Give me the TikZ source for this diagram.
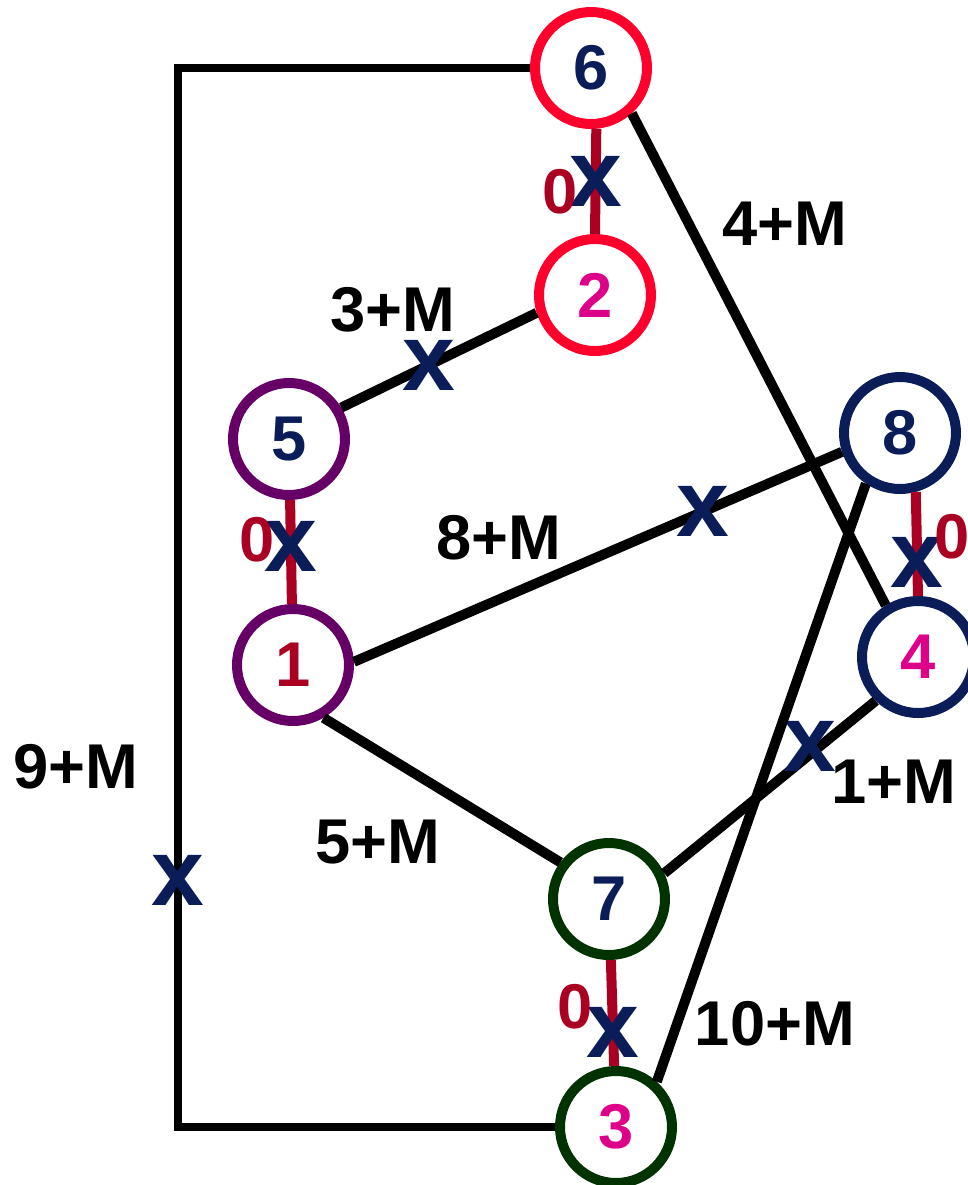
\documentclass[tikz,border=0pt]{standalone}
\usepackage{fontspec}
\setmainfont{Liberation Sans}
\usetikzlibrary{positioning}

\definecolor{navy}{RGB}{11,29,89}
\definecolor{zerored}{RGB}{170,0,34}
\definecolor{ringred}{RGB}{255,0,45}
\definecolor{ringpurple}{RGB}{102,0,102}
\definecolor{ringgreen}{RGB}{0,51,0}
\definecolor{numpink}{RGB}{221,0,136}

\begin{document}
\begin{tikzpicture}[
    vtx/.style={circle,draw,line width=1mm,minimum size=1.12cm,inner sep=0pt,font=\fontsize{18}{18}\selectfont\bfseries},
    link/.style={line width=1mm},
    zerolink/.style={line width=1mm,draw=zerored},
    xmark/.style={text=navy,inner sep=0pt,font=\fontsize{27}{27}\selectfont\bfseries},
    wlabel/.style={font=\fontsize{18}{18}\selectfont\bfseries},
    zlabel/.style={text=zerored,inner sep=0pt,font=\fontsize{18}{18}\selectfont\bfseries}
]
    \useasboundingbox (0,0) rectangle (9.68,-11.85);

    % Vertices
    \node[vtx,draw=ringred,text=navy] (n6) at (5.91,-0.68) {6};
    \node[vtx,draw=ringred,text=numpink] (n2) at (5.95,-2.95) {2};
    \node[vtx,draw=ringpurple,text=navy] (n5) at (2.89,-4.39) {5};
    \node[vtx,draw=ringpurple,text=zerored] (n1) at (2.93,-6.65) {1};
    \node[vtx,draw=navy,text=navy] (n8) at (9.00,-4.33) {8};
    \node[vtx,draw=navy,text=numpink] (n4) at (9.18,-6.57) {4};
    \node[vtx,draw=ringgreen,text=navy] (n7) at (6.09,-8.99) {7};
    \node[vtx,draw=ringgreen,text=numpink] (n3) at (6.16,-11.27) {3};

    % Zero edges (matched pairs)
    \draw[zerolink] (n6.-85) -- node[xmark,pos=0.5] (x62) {x} (n2.north);
    \draw[zerolink] (n5) -- node[xmark,pos=0.45] (x51) {x} (n1);
    \draw[zerolink] (n8.-75) -- node[xmark,pos=0.68] (x84) {x} (n4.north);
    \draw[zerolink] (n7) -- node[xmark,pos=0.68] (x73) {x} (n3);
    \node[zlabel] (z62) at (5.60,-1.92) {0};
    \node[zlabel] (z51) at (2.57,-5.40) {0};
    \node[zlabel] (z84) at (9.52,-5.37) {0};
    \node[zlabel] (z73) at (5.75,-10.07) {0};

    % Edges with weights
    \draw[link] (n5.31) -- node[xmark,pos=0.45] (x52) {x} (n2.197);
    \draw[link] (n6.-48) -- (n4.122);
    \draw[link] (n1.3) -- node[xmark,pos=0.715] (x18) {x} (n8.198);
    \draw[link] (n1.-60) -- (n7.143);
    \draw[link] (n7.25) -- node[xmark,pos=0.69,yshift=0.08cm] (x74) {x} (n4.226);
    \draw[link] (n3.48) -- (n8.236);

    % Outer loop from 6 to 3
    \coordinate (ltop) at (1.78,-0.68);
    \coordinate (lbot) at (1.78,-11.27);
    \draw[line width=0.8mm] (n6.west) -- (ltop) -- node[xmark,pos=0.767] (x63) {x} (lbot) -- (n3.west);

    % Weight labels
    \node[wlabel] (w64) at (7.85,-2.24) {4+M};
    \node[wlabel] (w52) at (3.93,-3.10) {3+M};
    \node[wlabel] (w18) at (4.99,-5.38) {8+M};
    \node[wlabel] (w63) at (0.76,-7.67) {9+M};
    \node[wlabel] (w17) at (3.78,-8.42) {5+M};
    \node[wlabel] (w74) at (8.94,-7.82) {1+M};
    \node[wlabel] (w38) at (7.75,-10.24) {10+M};
\end{tikzpicture}
\end{document}
